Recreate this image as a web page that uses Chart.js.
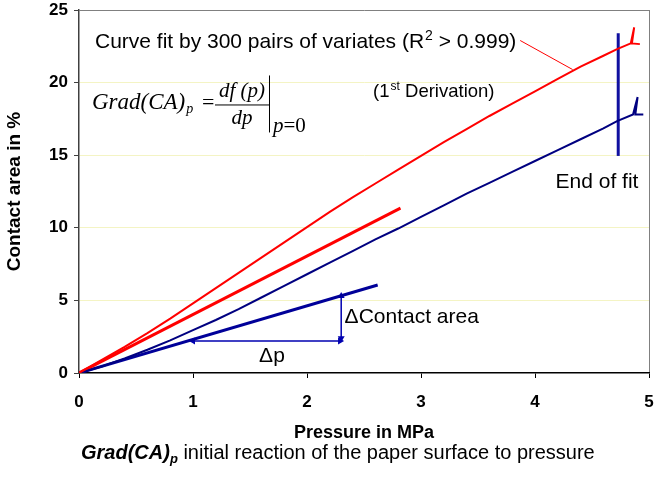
<!DOCTYPE html>
<html>
<head>
<meta charset="utf-8">
<script src="https://cdn.jsdelivr.net/npm/chart.js@4/dist/chart.umd.min.js"></script>
<style>
  html, body { margin: 0; padding: 0; background: #fff; }
  #wrap { width: 654px; height: 481px; position: relative; }
</style>
</head>
<body>
<div id="wrap"><canvas id="chart" width="654" height="481"></canvas></div>
<script>
// measured curves (pressure in MPa, contact area in %)
const redP = [0, 0.2, 0.4, 0.6, 0.8, 1.0, 1.2, 1.4, 1.6, 1.8, 2.0, 2.2, 2.4, 2.6, 2.8, 3.0, 3.2, 3.4, 3.6, 3.8, 4.0, 4.2, 4.4, 4.6, 4.72, 4.84, 4.87, 4.85, 4.92];
const redCA = [0, 0.9, 1.8, 2.75, 3.75, 4.8, 5.85, 6.9, 7.95, 9.0, 10.05, 11.1, 12.1, 13.05, 14.0, 14.95, 15.9, 16.8, 17.7, 18.55, 19.4, 20.25, 21.1, 21.85, 22.3, 22.7, 23.8, 22.7, 22.65];
const blueP = [0, 0.2, 0.4, 0.6, 0.8, 1.0, 1.2, 1.4, 1.6, 1.8, 2.0, 2.2, 2.4, 2.6, 2.8, 3.0, 3.2, 3.4, 3.6, 3.8, 4.0, 4.2, 4.4, 4.6, 4.72, 4.86, 4.9, 4.88, 4.95];
const blueCA = [0, 0.45, 1.0, 1.6, 2.25, 2.95, 3.65, 4.4, 5.2, 6.0, 6.8, 7.6, 8.4, 9.2, 9.95, 10.75, 11.55, 12.35, 13.1, 13.85, 14.6, 15.35, 16.1, 16.85, 17.35, 17.8, 19.0, 17.8, 17.8];

// initial gradients (tangents at p = 0)
const redTangentP = [0, 2.82];
const redTangentCA = [0, 11.35];
const blueTangentP = [0, 2.62];
const blueTangentCA = [0, 6.06];

// end of fit marker
const endFitP = [4.73, 4.73];
const endFitCA = [14.95, 23.4];

// delta arrows
const deltaPP = [1.0, 2.29];
const deltaPCA = [2.2, 2.2];
const deltaCAP = [2.3, 2.3];
const deltaCACA = [2.4, 5.3];

// pointer from the label to the red curve
const pointerP = [3.87, 4.33];
const pointerCA = [22.9, 20.9];

const xTicks = [0, 1, 2, 3, 4, 5];
const yTicks = [0, 5, 10, 15, 20, 25];

function pts(xs, ys) {
  return xs.map((x, i) => ({ x: x, y: ys[i] }));
}

const FONT = "'Liberation Sans', Arial, sans-serif";
const SERIF = "'Liberation Serif', 'Times New Roman', serif";

const textPlugin = {
  id: 'texts',
  afterDatasetsDraw(chart) {
    const ctx = chart.ctx;
    const xs = chart.scales.x, ys = chart.scales.y;
    const px = v => xs.getPixelForValue(v);
    const py = v => ys.getPixelForValue(v);
    ctx.save();
    ctx.fillStyle = '#000';
    ctx.textBaseline = 'middle';
    ctx.textAlign = 'left';

    // curve fit label with superscript
    let x = px(0.14), y = py(22.8);
    ctx.font = '21px ' + FONT;
    let s = 'Curve fit by 300 pairs of variates (R';
    ctx.fillText(s, x, y);
    x += ctx.measureText(s).width;
    ctx.font = '14px ' + FONT;
    ctx.fillText('2', x + 1, y - 6);
    x += ctx.measureText('2').width + 1;
    ctx.font = '21px ' + FONT;
    ctx.fillText(' > 0.999)', x, y);

    // (1st Derivation)
    x = px(2.58); y = py(19.35);
    ctx.font = '18.5px ' + FONT;
    ctx.fillText('(1', x, y);
    x += ctx.measureText('(1').width;
    ctx.font = '12px ' + FONT;
    ctx.fillText('st', x + 1, y - 5);
    x += ctx.measureText('st').width + 1;
    ctx.font = '18.5px ' + FONT;
    ctx.fillText(' Derivation)', x, y);

    ctx.font = '21px ' + FONT;
    ctx.fillText('End of fit', px(4.18), py(13.15));
    ctx.fillText('\u0394Contact area', px(2.33), py(3.85));
    ctx.fillText('\u0394p', px(1.58), py(1.17));

    // formula Grad(CA)_p = df(p)/dp |_{p=0}
    const fx = px(0.114), fy = py(18.15);
    ctx.textBaseline = 'alphabetic';
    ctx.font = 'italic 23px ' + SERIF;
    ctx.fillText('Grad(CA)', fx, fy);
    let w = ctx.measureText('Grad(CA)').width;
    ctx.font = 'italic 14px ' + SERIF;
    ctx.fillText('p', fx + w + 1, fy + 4);
    ctx.font = '22px ' + SERIF;
    ctx.fillText('=', fx + 110, fy);
    ctx.textAlign = 'center';
    ctx.font = 'italic 21px ' + SERIF;
    ctx.fillText('df (p)', fx + 150, fy - 12);
    ctx.fillText('dp', fx + 150, fy + 15);
    ctx.fillRect(fx + 123, fy - 5, 54, 1);
    ctx.fillRect(fx + 177, fy - 34, 1, 57);
    ctx.textAlign = 'left';
    ctx.fillText('p', fx + 181, fy + 23);
    w = ctx.measureText('p').width;
    ctx.font = '21px ' + SERIF;
    ctx.fillText('=0', fx + 181 + w, fy + 23);

    ctx.restore();
  },
  afterDraw(chart) {
    // caption under the axis title
    const ctx = chart.ctx;
    ctx.save();
    ctx.fillStyle = '#000';
    ctx.textBaseline = 'alphabetic';
    let x = 81, y = 459;
    ctx.font = 'bold italic 20px ' + FONT;
    ctx.fillText('Grad(CA)', x, y);
    x += ctx.measureText('Grad(CA)').width;
    ctx.font = 'bold italic 13px ' + FONT;
    ctx.fillText('p', x, y + 4);
    x += ctx.measureText('p').width;
    ctx.font = '20px ' + FONT;
    ctx.fillText(' initial reaction of the paper surface to pressure', x, y);
    ctx.restore();
  }
};

function lineSet(xs, ys, color, width, extra) {
  return Object.assign({
    data: pts(xs, ys),
    borderColor: color,
    backgroundColor: color,
    borderWidth: width,
    pointRadius: 0,
    fill: false,
    tension: 0
  }, extra || {});
}

const arrowStyle = (rot) => ({
  pointStyle: 'triangle',
  pointRadius: [4, 4],
  pointRotation: rot,
  pointBorderWidth: 0
});

new Chart(document.getElementById('chart'), {
  type: 'line',
  data: {
    datasets: [
      lineSet(redP, redCA, '#ff0000', 2),
      lineSet(blueP, blueCA, '#000080', 2),
      lineSet(redTangentP, redTangentCA, '#ff0000', 3),
      lineSet(blueTangentP, blueTangentCA, '#000099', 3),
      lineSet(endFitP, endFitCA, '#1010a0', 3),
      lineSet(pointerP, pointerCA, '#ff0000', 1),
      lineSet(deltaPP, deltaPCA, '#0000b0', 1.5, arrowStyle([270, 90])),
      lineSet(deltaCAP, deltaCACA, '#0000b0', 1.5, arrowStyle([180, 0]))
    ]
  },
  options: {
    responsive: false,
    animation: false,
    devicePixelRatio: 1,
    layout: { padding: { top: 10, right: 5, left: 0, bottom: 0 } },
    plugins: { legend: { display: false }, tooltip: { enabled: false } },
    scales: {
      x: {
        type: 'linear',
        min: 0, max: 5,
        afterFit: s => { s.height = 108; s.paddingLeft = 0; s.paddingRight = 0; },
        afterBuildTicks: s => { s.ticks = xTicks.map(v => ({ value: v })); },
        border: { color: '#000', width: 1.5 },
        grid: {
          color: c => c.tick && c.tick.value === 5 ? '#808080' : 'rgba(0,0,0,0)',
          tickColor: '#000',
          tickLength: 5,
          lineWidth: 1
        },
        ticks: {
          color: '#000',
          padding: 14,
          font: { family: FONT, size: 17, weight: 'bold' },
          maxRotation: 0
        },
        title: {
          display: true,
          text: 'Pressure in MPa',
          color: '#000',
          font: { family: FONT, size: 18, weight: 'bold' },
          padding: { top: 0, bottom: 37 }
        }
      },
      y: {
        type: 'linear',
        min: 0, max: 25,
        afterFit: s => { s.width = 79; s.paddingTop = 0; s.paddingBottom = 0; },
        afterBuildTicks: s => { s.ticks = yTicks.map(v => ({ value: v })); },
        border: { color: '#404040', width: 1.5 },
        grid: {
          color: c => {
            if (!c.tick) return 'rgba(0,0,0,0)';
            if (c.tick.value === 25) return '#808080';
            if (c.tick.value === 0) return 'rgba(0,0,0,0)';
            return '#f4f4c4';
          },
          tickColor: '#404040',
          tickLength: 5,
          lineWidth: 1
        },
        ticks: {
          color: '#000',
          padding: 6,
          font: { family: FONT, size: 17, weight: 'bold' }
        },
        title: {
          display: true,
          text: 'Contact area in %',
          color: '#000',
          font: { family: FONT, size: 19, weight: 'bold' },
          padding: { top: 3, bottom: 0 }
        }
      }
    }
  },
  plugins: [textPlugin]
});
</script>
</body>
</html>
